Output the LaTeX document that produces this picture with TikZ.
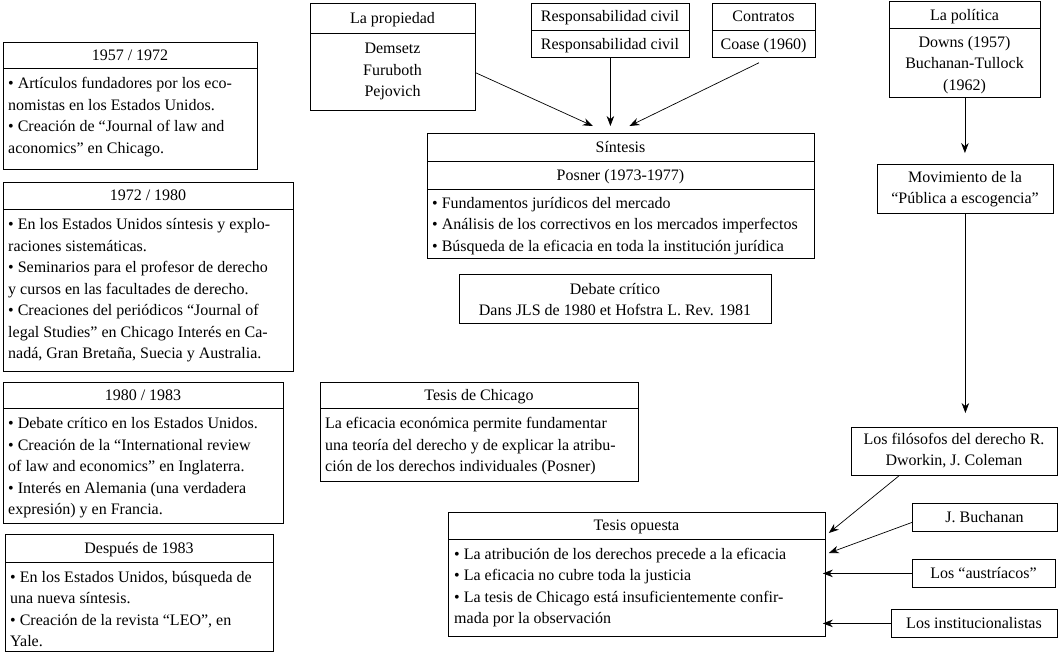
\documentclass[tikz,border=0pt]{standalone}
\usepackage{fontspec}
\setmainfont{Liberation Serif}
\usetikzlibrary{arrows.meta}
\begin{document}
\begin{tikzpicture}[x=1pt,y=-1pt,
  font=\fontsize{16}{21.5}\selectfont,
  frame/.style={draw, line width=0.8pt, inner sep=0pt, anchor=north west},
  divline/.style={line width=0.8pt},
  hd/.style={anchor=base, inner sep=0pt},
  bodyl/.style={anchor=north west, align=left, inner sep=0pt},
  bodyc/.style={anchor=north, align=center, inner sep=0pt},
  arr/.style={-{Stealth[length=10pt,width=7.5pt]}, line width=0.7pt}]
\useasboundingbox (0,0) rectangle (1060,654);

% ---------- left column ----------
\node[frame, minimum width=254pt, minimum height=127pt] (A) at (3,42) {};
\draw[divline] (A.west |- 0,68) -- (A.east |- 0,68);
\node[hd] (Ah) at (130,60) {1957 / 1972};
\node[bodyl] (Ab) at (8,73.5) {\strut• Artículos fundadores por los eco-\\nomistas en los Estados Unidos.\\• Creación de “Journal of law and\\aconomics” en Chicago.};

\node[frame, minimum width=290pt, minimum height=189pt] (B) at (3,182) {};
\draw[divline] (B.west |- 0,209) -- (B.east |- 0,209);
\node[hd] (Bh) at (148,200) {1972 / 1980};
\node[bodyl] (Bb) at (8,214.5) {\strut• En los Estados Unidos síntesis y explo-\\raciones sistemáticas.\\• Seminarios para el profesor de derecho\\y cursos en las facultades de derecho.\\• Creaciones del periódicos “Journal of\\legal Studies” en Chicago Interés en Ca-\\nadá, Gran Bretaña, Suecia y Australia.};

\node[frame, minimum width=280pt, minimum height=141pt] (C) at (3,382) {};
\draw[divline] (C.west |- 0,408) -- (C.east |- 0,408);
\node[hd] (Ch) at (143,400) {1980 / 1983};
\node[bodyl] (Cb) at (8,413.5) {\strut• Debate crítico en los Estados Unidos.\\• Creación de la “International review\\of law and economics” en Inglaterra.\\• Interés en Alemania (una verdadera\\expresión) y en Francia.};

\node[frame, minimum width=268pt, minimum height=117pt] (D) at (5,534) {};
\draw[divline] (D.west |- 0,562) -- (D.east |- 0,562);
\node[hd] (Dh) at (139,553) {Después de 1983};
\node[bodyl] (Db) at (10,567) {\strut• En los Estados Unidos, búsqueda de\\una nueva síntesis.\\• Creación de la revista “LEO”, en\\Yale.};

% ---------- top row ----------
\node[frame, minimum width=165pt, minimum height=107pt] (prop) at (310,3) {};
\draw[divline] (prop.west |- 0,33) -- (prop.east |- 0,33);
\node[hd] (proph) at (392.5,23) {La propiedad};
\node[bodyc] (propb) at (392.5,38.5) {\strut Demsetz\\Furuboth\\Pejovich};

\node[frame, minimum width=158pt, minimum height=54pt] (resp) at (531,3) {};
\draw[divline] (resp.west |- 0,30) -- (resp.east |- 0,30);
\node[hd] (resph) at (610,21.5) {Responsabilidad civil};
\node[hd] (respb) at (610,49) {Responsabilidad civil};

\node[frame, minimum width=103pt, minimum height=54pt] (contr) at (712,3) {};
\draw[divline] (contr.west |- 0,30) -- (contr.east |- 0,30);
\node[hd] (contrh) at (763.5,21.5) {Contratos};
\node[hd] (contrb) at (763.5,49) {Coase (1960)};

% ---------- centre ----------
\node[frame, minimum width=387pt, minimum height=125pt] (synth) at (427,133) {};
\draw[divline] (synth.west |- 0,161) -- (synth.east |- 0,161);
\draw[divline] (synth.west |- 0,189) -- (synth.east |- 0,189);
\node[hd] (synthh) at (620.5,152) {Síntesis};
\node[hd] (synthp) at (620.5,180) {Posner (1973-1977)};
\node[bodyl] (synthb) at (432,193) {\strut• Fundamentos jurídicos del mercado\\• Análisis de los correctivos en los mercados imperfectos\\• Búsqueda de la eficacia en toda la institución jurídica};

\node[frame, minimum width=312pt, minimum height=49pt] (deb) at (459,274) {};
\node[bodyc] (debb) at (615,279) {\strut Debate crítico\\Dans JLS de 1980 et Hofstra L. Rev. 1981};

\node[frame, minimum width=318pt, minimum height=99pt] (chic) at (320,382) {};
\draw[divline] (chic.west |- 0,408) -- (chic.east |- 0,408);
\node[hd] (chich) at (479,400) {Tesis de Chicago};
\node[bodyl] (chicb) at (325,413.5) {\strut La eficacia económica permite fundamentar\\una teoría del derecho y de explicar la atribu-\\ción de los derechos individuales (Posner)};

\node[frame, minimum width=377pt, minimum height=124pt] (opp) at (448,512) {};
\draw[divline] (opp.west |- 0,539) -- (opp.east |- 0,539);
\node[hd] (opph) at (636.5,530.5) {Tesis opuesta};
\node[bodyl] (oppb) at (454,544) {\strut• La atribución de los derechos precede a la eficacia\\• La eficacia no cubre toda la justicia\\• La tesis de Chicago está insuficientemente confir-\\mada por la observación};

% ---------- right column ----------
\node[frame, minimum width=151pt, minimum height=96pt] (pol) at (889,1) {};
\draw[divline] (pol.west |- 0,28) -- (pol.east |- 0,28);
\node[hd] (polh) at (964.5,20) {La política};
\node[bodyc] (polb) at (964.5,32) {\strut Downs (1957)\\Buchanan-Tullock\\(1962)};

\node[frame, minimum width=176pt, minimum height=49pt] (mov) at (877,164) {};
\node[bodyc] (movb) at (965,167) {\strut Movimiento de la\\“Pública a escogencia”};

\node[frame, minimum width=206pt, minimum height=48pt] (filo) at (851,427) {};
\node[bodyc] (filob) at (954,429) {\strut Los filósofos del derecho R.\\Dworkin, J. Coleman};

\node[frame, minimum width=145pt, minimum height=28pt] (buch) at (912,503) {};
\node[hd] (buchb) at (984.5,522) {J. Buchanan};

\node[frame, minimum width=143pt, minimum height=28pt] (aust) at (912,559) {};
\node[hd] (austb) at (983.5,578) {Los “austríacos”};

\node[frame, minimum width=166pt, minimum height=28pt] (inst) at (891,609) {};
\node[hd] (instb) at (974,628) {Los institucionalistas};

% ---------- connectors ----------
\draw[arr] ([yshift=38pt]prop.south east) -- ([xshift=-28pt,yshift=7pt]synth.north);
\draw[arr] (resp.south) -- ([xshift=-10.5pt,yshift=7pt]synth.north);
\draw[arr] ([xshift=-5pt,yshift=-5pt]contr.south) -- ([xshift=8.5pt,yshift=7pt]synth.north);
\draw[arr, shorten >=11pt] (pol.south) -- (pol.south |- mov.north);
\draw[arr, shorten >=14pt] (mov.south) -- (mov.south |- filo.north);
\draw[arr] ([xshift=48pt]filo.south west) -- ([xshift=3pt,yshift=-21pt]opp.north east);
\draw[arr] ([yshift=-5pt]buch.west) -- ([xshift=3pt,yshift=-41pt]opp.north east);
\draw[arr, shorten >=-3pt] (aust.west) -- (aust.west -| opp.east);
\draw[arr, shorten >=-3pt] (inst.west) -- (inst.west -| opp.east);
\end{tikzpicture}
\end{document}
